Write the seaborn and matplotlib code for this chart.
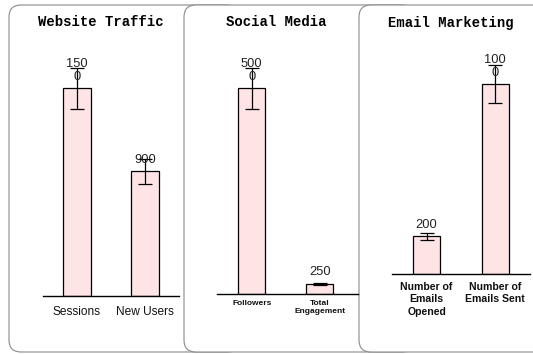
import textwrap
import matplotlib
matplotlib.use("Agg")
import matplotlib.pyplot as plt
from matplotlib.patches import FancyBboxPatch
from matplotlib.transforms import Affine2D
import seaborn as sns

sns.set_theme(style="white")
plt.rcParams["font.family"] = ["Liberation Sans", "DejaVu Sans"]

# ---- data ----
titles = ["Website Traffic", "Social Media", "Email Marketing"]
traffic_labels = ["Sessions", "New Users"]
traffic_values = [1500, 900]
traffic_errors = [150, 90]
social_labels = ["Followers", "Total\nEngagement"]
social_values = [5000, 250]
social_errors = [500, 25]
email_labels = ["Number of\nEmails\nOpened", "Number of\nEmails Sent"]
email_values = [200, 1000]
email_errors = [20, 100]

W, H = 533, 354
fig = plt.figure(figsize=(W / 100, H / 100), dpi=100)
fig.patch.set_facecolor("white")
pix = Affine2D().scale(1 / W, 1 / H) + fig.transFigure

# rounded panel boxes (each overlaps the previous one's right side)
box_lefts = [9, 184, 359]
for i, x0 in enumerate(box_lefts):
    p = FancyBboxPatch((x0, 2), 230, 347,
                       boxstyle="round,pad=0,rounding_size=12",
                       transform=pix, facecolor="white",
                       edgecolor="#8a8a8a", linewidth=0.8, zorder=-10 + i)
    fig.add_artist(p)

panels = [
    dict(labels=traffic_labels, values=traffic_values, errors=traffic_errors,
         x0=42.7, x1=179.3, base=295.7, top_px=88.3, xlim=(-0.5, 1.5),
         fs=8.6, weight="normal", pad=7.5, ls=1.15, title_x=101, title_y=22.5),
    dict(labels=social_labels, values=social_values, errors=social_errors,
         x0=217.3, x1=358.0, base=294.0, top_px=88.3, xlim=(-0.507, 1.56),
         fs=6.0, weight="bold", pad=4.3, ls=1.15, title_x=276, title_y=22.5),
    dict(labels=email_labels, values=email_values, errors=email_errors,
         x0=392.3, x1=529.7, base=274.3, top_px=84.3, xlim=(-0.5, 1.5),
         fs=7.6, weight="bold", pad=5.5, ls=1.3, title_x=451, title_y=22.5),
]

for title, pn in zip(titles, panels):
    vmax = max(pn["values"])
    scale = (pn["base"] - pn["top_px"]) / vmax
    ytop = vmax * 1.2
    h_px = ytop * scale
    ax = fig.add_axes([pn["x0"] / W, 1 - pn["base"] / H,
                       (pn["x1"] - pn["x0"]) / W, h_px / H])
    ax.set_facecolor("none")
    ax.set_zorder(1)
    sns.barplot(x=list(range(len(pn["values"]))), y=pn["values"], ax=ax,
                color="#FFE4E6", saturation=1, edgecolor="black",
                linewidth=0.9, width=0.4, errorbar=None, native_scale=True)
    xs = list(range(len(pn["values"])))
    ax.errorbar(xs, pn["values"], yerr=pn["errors"], fmt="none",
                ecolor="black", elinewidth=0.9, capsize=4.8, capthick=0.9)
    for x, v in zip(xs, pn["values"]):
        ax.annotate("\n".join(textwrap.wrap(str(v), 3)), (x, v),
                    xytext=(0, 4), textcoords="offset points",
                    ha="center", va="bottom", fontsize=9.3, color="#222222",
                    linespacing=1.05)
    ax.set_xlim(*pn["xlim"])
    ax.set_ylim(0, ytop)
    ax.set_xticks(xs)
    ax.set_xticklabels(pn["labels"], fontsize=pn["fs"], fontweight=pn["weight"],
                       color="#111111", linespacing=pn["ls"])
    ax.tick_params(axis="x", length=0, pad=pn["pad"])
    ax.set_yticks([])
    ax.set_xlabel("")
    ax.set_ylabel("")
    for s in ["top", "right", "left"]:
        ax.spines[s].set_visible(False)
    ax.spines["bottom"].set_color("black")
    ax.spines["bottom"].set_linewidth(1.0)
    fig.text(pn["title_x"] / W, 1 - pn["title_y"] / H, title,
             ha="center", va="center", fontsize=10, fontweight="bold",
             family=["Liberation Mono", "DejaVu Sans Mono"], color="black")

fig.savefig("out.png", dpi=100, facecolor="white")
